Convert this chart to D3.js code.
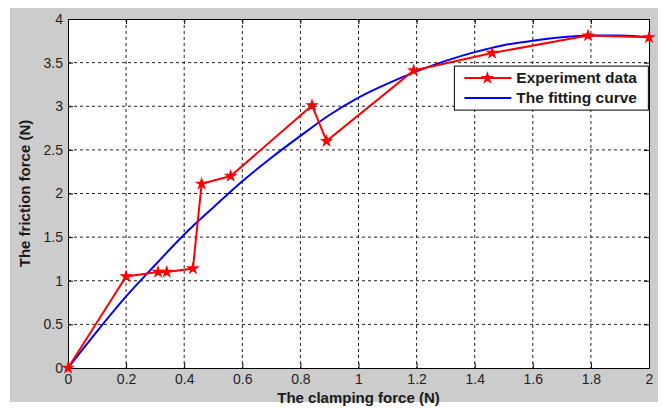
<!DOCTYPE html>
<html>
<head>
<meta charset="utf-8">
<script src="https://cdnjs.cloudflare.com/ajax/libs/d3/7.8.5/d3.min.js"></script>
<style>
  body { margin: 0; background: #ffffff; }
  text { font-family: "Liberation Sans", Arial, sans-serif; }
</style>
</head>
<body>
<svg id="chart" width="662" height="408"></svg>
<script>
// experiment data
var clampForce = [0, 0.2, 0.31, 0.34, 0.43, 0.46, 0.56, 0.84, 0.89, 1.19, 1.46, 1.79, 2.0]
var frictionForce = [0, 1.05, 1.1, 1.1, 1.14, 2.11, 2.2, 3.01, 2.6, 3.41, 3.61, 3.81, 3.79]

// fitting curve, sampled from the figure
var fitX = [0, 0.1, 0.2, 0.3, 0.4, 0.5, 0.6, 0.7, 0.8, 0.9, 1.0, 1.1, 1.2, 1.3, 1.4, 1.5, 1.6, 1.7, 1.8, 1.9, 2.0]
var fitY = [0, 0.42, 0.82, 1.18, 1.53, 1.84, 2.14, 2.41, 2.66, 2.9, 3.1, 3.26, 3.4, 3.52, 3.62, 3.7, 3.75, 3.79, 3.81, 3.81, 3.79]

var xTicks = [0, 0.2, 0.4, 0.6, 0.8, 1, 1.2, 1.4, 1.6, 1.8, 2]
var yTicks = [0, 0.5, 1, 1.5, 2, 2.5, 3, 3.5, 4]

var seriesNames = ["Experiment data", "The fitting curve"]

var svg = d3.select("#chart")

var margin = {left: 68, top: 19, right: 13, bottom: 40}
var graph = {width: 662 - margin.left - margin.right, height: 408 - margin.top - margin.bottom}

// gray figure background
svg.append("rect")
    .attr("x", 10).attr("y", 8)
    .attr("width", 648).attr("height", 394)
    .style("fill", "#cccccc")

var target = svg.append("g")
    .attr("transform", "translate(" + margin.left + "," + margin.top + ")")

var xScale = d3.scaleLinear().domain([0, 2]).range([0, graph.width])
var yScale = d3.scaleLinear().domain([0, 4]).range([graph.height, 0])

target.append("rect")
    .attr("width", graph.width).attr("height", graph.height)
    .style("fill", "white")

// dashed grid
target.selectAll("xGrid")
    .data(xTicks.slice(1, -1))
    .enter()
    .append("line")
      .attr("x1", function(d) { return xScale(d) })
      .attr("x2", function(d) { return xScale(d) })
      .attr("y1", 0).attr("y2", graph.height)
      .style("stroke", "#222")
      .style("stroke-dasharray", "3,3")
      .style("stroke-width", 1)

target.selectAll("yGrid")
    .data(yTicks.slice(1, -1))
    .enter()
    .append("line")
      .attr("y1", function(d) { return yScale(d) })
      .attr("y2", function(d) { return yScale(d) })
      .attr("x1", 0).attr("x2", graph.width)
      .style("stroke", "#222")
      .style("stroke-dasharray", "3,3")
      .style("stroke-width", 1)

// axes with inward ticks, labels drawn by d3
var xAxis = d3.axisBottom(xScale).tickValues(xTicks).tickSizeInner(-5).tickSizeOuter(0).tickPadding(10)
    .tickFormat(function(d) { return d3.format("")(d) })
var yAxis = d3.axisLeft(yScale).tickValues(yTicks).tickSizeInner(-5).tickSizeOuter(0).tickPadding(10)
    .tickFormat(function(d) { return d3.format("")(d) })

var gx = target.append("g").attr("transform", "translate(0," + graph.height + ")").call(xAxis)
var gy = target.append("g").call(yAxis)
var gxTop = target.append("g").call(d3.axisTop(xScale).tickValues(xTicks).tickSizeInner(-5).tickSizeOuter(0).tickFormat(""))
var gyRight = target.append("g").attr("transform", "translate(" + graph.width + ",0)")
    .call(d3.axisRight(yScale).tickValues(yTicks).tickSizeInner(-5).tickSizeOuter(0).tickFormat(""))

svg.selectAll(".domain").style("stroke", "#000")
svg.selectAll(".tick line").style("stroke", "#000")
svg.selectAll(".tick text")
    .style("font-family", "'Liberation Sans', Arial, sans-serif")
    .style("font-size", "14px")
    .style("fill", "#1f1f1f")
gx.selectAll(".tick text").attr("dy", "0.75em").attr("y", 5)
gy.selectAll(".tick text").attr("x", -5)

// fitting curve
var fitData = fitX.map(function(x, i) { return {x: x, y: fitY[i]} })
var expData = clampForce.map(function(x, i) { return {x: x, y: frictionForce[i]} })

var line = d3.line()
    .x(function(d) { return xScale(d.x) })
    .y(function(d) { return yScale(d.y) })

target.append("path")
    .datum(fitData)
    .attr("d", line.curve(d3.curveMonotoneX))
    .style("fill", "none")
    .style("stroke", "#0000ff")
    .style("stroke-width", 2)

target.append("path")
    .datum(expData)
    .attr("d", line.curve(d3.curveLinear))
    .style("fill", "none")
    .style("stroke", "#ff0000")
    .style("stroke-width", 2)

var star = d3.symbol().type(d3.symbolStar).size(30)

target.selectAll("myPoints")
    .data(expData)
    .enter()
    .append("path")
      .attr("d", star)
      .attr("transform", function(d) { return "translate(" + xScale(d.x) + "," + yScale(d.y) + ")" })
      .style("fill", "#ff0000")
      .style("stroke", "#ff0000")
      .style("stroke-width", 1.2)

// axis titles
target.append("text")
    .attr("text-anchor", "middle")
    .attr("x", graph.width / 2)
    .attr("y", graph.height + 35)
    .style("font-size", "15px")
    .style("font-weight", "bold")
    .style("fill", "#1a1a1a")
    .text("The clamping force (N)")

target.append("text")
    .attr("text-anchor", "middle")
    .attr("transform", "translate(-38," + graph.height / 2 + ") rotate(-90)")
    .style("font-size", "15px")
    .style("font-weight", "bold")
    .style("fill", "#1a1a1a")
    .text("The friction force (N)")

// legend
var legend = target.append("g").attr("transform", "translate(" + (xScale(1.33)) + "," + (yScale(3.46)) + ")")

legend.append("rect")
    .attr("width", 194).attr("height", 44)
    .style("fill", "white")
    .style("stroke", "#000")
    .style("stroke-width", 1)

var legendColors = ["#ff0000", "#0000ff"]

legend.selectAll("legendLines")
    .data(seriesNames)
    .enter()
    .append("line")
      .attr("x1", 10).attr("x2", 57)
      .attr("y1", function(d, i) { return 12 + i * 20 })
      .attr("y2", function(d, i) { return 12 + i * 20 })
      .style("stroke", function(d, i) { return legendColors[i] })
      .style("stroke-width", 2)

legend.append("path")
    .attr("d", star)
    .attr("transform", "translate(33,12)")
    .style("fill", "#ff0000")
    .style("stroke", "#ff0000")
    .style("stroke-width", 1.2)

legend.selectAll("legendText")
    .data(seriesNames)
    .enter()
    .append("text")
      .attr("x", 62)
      .attr("y", function(d, i) { return 17 + i * 20 })
      .style("font-size", "15.5px")
      .style("font-weight", "bold")
      .style("fill", "#1a1a1a")
      .text(function(d) { return d })
</script>
</body>
</html>
